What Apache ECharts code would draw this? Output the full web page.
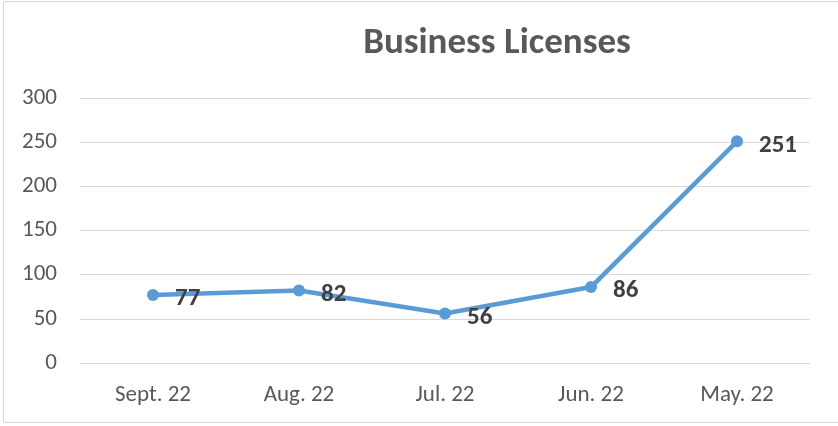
<!DOCTYPE html>
<html><head><meta charset="utf-8">
<script src="https://cdn.jsdelivr.net/npm/echarts@6/dist/echarts.min.js"></script>
<style>html,body{margin:0;padding:0;background:#fff}#c{width:838px;height:426px}</style>
</head><body><div id="c"></div>
<script>
const categories = ['Sept. 22', 'Aug. 22', 'Jul. 22', 'Jun. 22', 'May. 22'];
const licenses = [77, 82, 56, 86, 251];
const yTicks = { min: 0, max: 300, interval: 50 };

const chart = echarts.init(document.getElementById('c'));
const font = 'Carlito, "Open Sans", "Liberation Sans", sans-serif';
chart.setOption({
  animation: false,
  graphic: [{ type: 'rect', shape: { x: 3.5, y: 1.5, width: 900, height: 421 }, style: { fill: 'none', stroke: '#d9d9d9', lineWidth: 1 }, silent: true }],
  title: {
    text: 'Business Licenses', left: 492, top: 20, textAlign: 'center',
    textStyle: { fontFamily: font, fontSize: 37, fontWeight: 'bold', color: '#595959' }
  },
  grid: { left: 80, right: 28, top: 98, bottom: 63, containLabel: false },
  xAxis: {
    type: 'category', data: categories, boundaryGap: true,
    axisLine: { lineStyle: { color: '#d9d9d9', width: 1 } },
    axisTick: { show: false },
    axisLabel: { color: '#595959', fontFamily: font, fontSize: 23, margin: 21 }
  },
  yAxis: {
    type: 'value', min: yTicks.min, max: yTicks.max, interval: yTicks.interval,
    axisLine: { show: false }, axisTick: { show: false },
    splitLine: { lineStyle: { color: '#d9d9d9', width: 1 } },
    axisLabel: { color: '#595959', fontFamily: font, fontSize: 23, margin: 23 }
  },
  series: [{
    type: 'line', data: licenses,
    lineStyle: { color: '#5b9bd5', width: 4.5 },
    itemStyle: { color: '#5b9bd5' },
    symbol: 'circle', symbolSize: 12,
    label: { show: true, position: 'right', distance: 16, offset: [0, 4],
      color: '#404040', fontFamily: font, fontSize: 25, fontWeight: 'bold' }
  }]
});
</script></body></html>
